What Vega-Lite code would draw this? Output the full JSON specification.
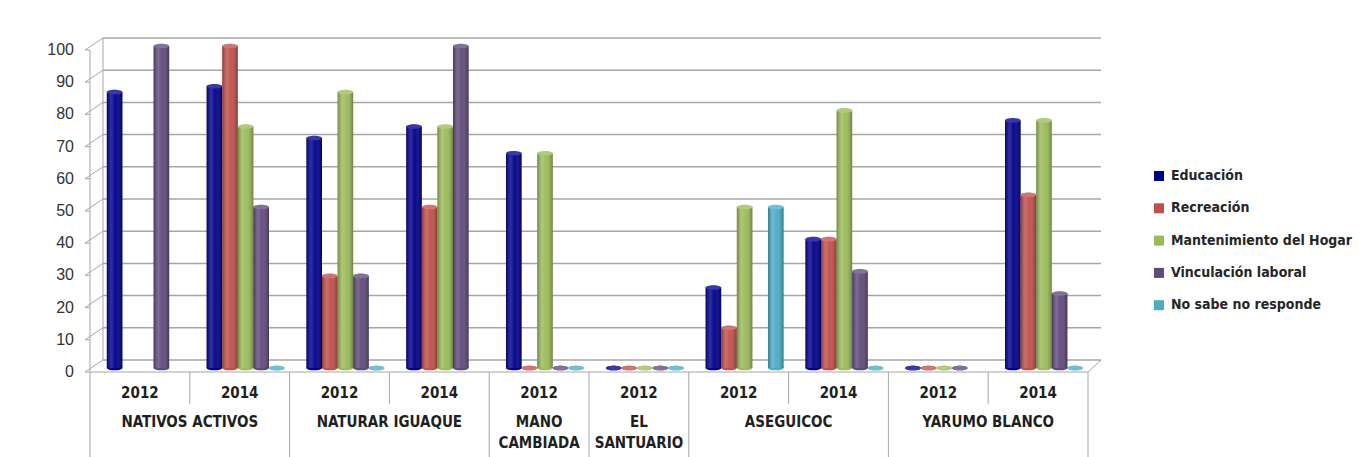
{
  "$schema": "https://vega.github.io/schema/vega-lite/v6.json",
  "padding": {"left": 47, "top": 37, "right": 5, "bottom": 0},
  "background": "white",
  "spacing": 0,
  "bounds": "flush",
  "config": {
    "view": {"stroke": null},
    "font": "Liberation Sans",
    "legend": {
      "orient": "none",
      "legendX": 1062,
      "legendY": 119,
      "title": null,
      "symbolType": "square",
      "symbolSize": 100,
      "symbolStrokeWidth": 0,
      "labelFont": "DejaVu Sans Condensed",
      "labelFontSize": 14,
      "labelFontWeight": "bold",
      "labelColor": "#262626",
      "labelLimit": 400,
      "rowPadding": 18.3,
      "labelOffset": 5
    }
  },
  "datasets": {
    "datos": [
      {"grupo": "NATIVOS ACTIVOS 2012", "serie": "Educación", "valor": 85.7},
      {"grupo": "NATIVOS ACTIVOS 2012", "serie": "Vinculación laboral", "valor": 100},
      {"grupo": "NATIVOS ACTIVOS 2014", "serie": "Educación", "valor": 87.5},
      {"grupo": "NATIVOS ACTIVOS 2014", "serie": "Recreación", "valor": 100},
      {"grupo": "NATIVOS ACTIVOS 2014", "serie": "Mantenimiento del Hogar", "valor": 75},
      {"grupo": "NATIVOS ACTIVOS 2014", "serie": "Vinculación laboral", "valor": 50},
      {"grupo": "NATIVOS ACTIVOS 2014", "serie": "No sabe no responde", "valor": 0},
      {"grupo": "NATURAR IGUAQUE 2012", "serie": "Educación", "valor": 71.4},
      {"grupo": "NATURAR IGUAQUE 2012", "serie": "Recreación", "valor": 28.6},
      {"grupo": "NATURAR IGUAQUE 2012", "serie": "Mantenimiento del Hogar", "valor": 85.7},
      {"grupo": "NATURAR IGUAQUE 2012", "serie": "Vinculación laboral", "valor": 28.6},
      {"grupo": "NATURAR IGUAQUE 2012", "serie": "No sabe no responde", "valor": 0},
      {"grupo": "NATURAR IGUAQUE 2014", "serie": "Educación", "valor": 75},
      {"grupo": "NATURAR IGUAQUE 2014", "serie": "Recreación", "valor": 50},
      {"grupo": "NATURAR IGUAQUE 2014", "serie": "Mantenimiento del Hogar", "valor": 75},
      {"grupo": "NATURAR IGUAQUE 2014", "serie": "Vinculación laboral", "valor": 100},
      {"grupo": "MANO CAMBIADA 2012", "serie": "Educación", "valor": 66.7},
      {"grupo": "MANO CAMBIADA 2012", "serie": "Recreación", "valor": 0},
      {"grupo": "MANO CAMBIADA 2012", "serie": "Mantenimiento del Hogar", "valor": 66.7},
      {"grupo": "MANO CAMBIADA 2012", "serie": "Vinculación laboral", "valor": 0},
      {"grupo": "MANO CAMBIADA 2012", "serie": "No sabe no responde", "valor": 0},
      {"grupo": "EL SANTUARIO 2012", "serie": "Educación", "valor": 0},
      {"grupo": "EL SANTUARIO 2012", "serie": "Recreación", "valor": 0},
      {"grupo": "EL SANTUARIO 2012", "serie": "Mantenimiento del Hogar", "valor": 0},
      {"grupo": "EL SANTUARIO 2012", "serie": "Vinculación laboral", "valor": 0},
      {"grupo": "EL SANTUARIO 2012", "serie": "No sabe no responde", "valor": 0},
      {"grupo": "ASEGUICOC 2012", "serie": "Educación", "valor": 25},
      {"grupo": "ASEGUICOC 2012", "serie": "Recreación", "valor": 12.5},
      {"grupo": "ASEGUICOC 2012", "serie": "Mantenimiento del Hogar", "valor": 50},
      {"grupo": "ASEGUICOC 2012", "serie": "No sabe no responde", "valor": 50},
      {"grupo": "ASEGUICOC 2014", "serie": "Educación", "valor": 40},
      {"grupo": "ASEGUICOC 2014", "serie": "Recreación", "valor": 40},
      {"grupo": "ASEGUICOC 2014", "serie": "Mantenimiento del Hogar", "valor": 80},
      {"grupo": "ASEGUICOC 2014", "serie": "Vinculación laboral", "valor": 30},
      {"grupo": "ASEGUICOC 2014", "serie": "No sabe no responde", "valor": 0},
      {"grupo": "YARUMO BLANCO 2012", "serie": "Educación", "valor": 0},
      {"grupo": "YARUMO BLANCO 2012", "serie": "Recreación", "valor": 0},
      {"grupo": "YARUMO BLANCO 2012", "serie": "Mantenimiento del Hogar", "valor": 0},
      {"grupo": "YARUMO BLANCO 2012", "serie": "Vinculación laboral", "valor": 0},
      {"grupo": "YARUMO BLANCO 2014", "serie": "Educación", "valor": 76.9},
      {"grupo": "YARUMO BLANCO 2014", "serie": "Recreación", "valor": 53.8},
      {"grupo": "YARUMO BLANCO 2014", "serie": "Mantenimiento del Hogar", "valor": 76.9},
      {"grupo": "YARUMO BLANCO 2014", "serie": "Vinculación laboral", "valor": 23.1},
      {"grupo": "YARUMO BLANCO 2014", "serie": "No sabe no responde", "valor": 0}
    ],
    "ticks": [
      {"v": 0}, {"v": 10}, {"v": 20}, {"v": 30}, {"v": 40}, {"v": 50},
      {"v": 60}, {"v": 70}, {"v": 80}, {"v": 90}, {"v": 100}
    ],
    "grupos": [
      {"grupo": "NATIVOS ACTIVOS 2012", "org": "NATIVOS ACTIVOS", "anio": "2012"},
      {"grupo": "NATIVOS ACTIVOS 2014", "org": "NATIVOS ACTIVOS", "anio": "2014"},
      {"grupo": "NATURAR IGUAQUE 2012", "org": "NATURAR IGUAQUE", "anio": "2012"},
      {"grupo": "NATURAR IGUAQUE 2014", "org": "NATURAR IGUAQUE", "anio": "2014"},
      {"grupo": "MANO CAMBIADA 2012", "org": "MANO CAMBIADA", "anio": "2012"},
      {"grupo": "EL SANTUARIO 2012", "org": "EL SANTUARIO", "anio": "2012"},
      {"grupo": "ASEGUICOC 2012", "org": "ASEGUICOC", "anio": "2012"},
      {"grupo": "ASEGUICOC 2014", "org": "ASEGUICOC", "anio": "2014"},
      {"grupo": "YARUMO BLANCO 2012", "org": "YARUMO BLANCO", "anio": "2012"},
      {"grupo": "YARUMO BLANCO 2014", "org": "YARUMO BLANCO", "anio": "2014"}
    ],
    "orgs": [
      {"etiqueta": "NATIVOS ACTIVOS", "ancla": "NATIVOS ACTIVOS 2014", "tramo": 2},
      {"etiqueta": "NATURAR IGUAQUE", "ancla": "NATURAR IGUAQUE 2014", "tramo": 2},
      {"etiqueta": "MANO\nCAMBIADA", "ancla": "MANO CAMBIADA 2012", "tramo": 1},
      {"etiqueta": "EL\nSANTUARIO", "ancla": "EL SANTUARIO 2012", "tramo": 1},
      {"etiqueta": "ASEGUICOC", "ancla": "ASEGUICOC 2014", "tramo": 2},
      {"etiqueta": "YARUMO BLANCO", "ancla": "YARUMO BLANCO 2014", "tramo": 2}
    ]
  },
  "vconcat": [
    {
      "width": 998,
      "height": 322,
      "layer": [
        {
          "data": {"name": "ticks"},
          "mark": {"type": "rule", "color": "#a6a6a6", "strokeWidth": 1.5, "xOffset": 13, "x2Offset": 13, "yOffset": -12},
          "encoding": {
            "y": {
              "field": "v", "type": "quantitative",
              "scale": {"domain": [0, 100], "nice": false},
              "axis": null
            },
            "x": {
              "datum": "NATIVOS ACTIVOS 2012", "type": "nominal", "bandPosition": 0,
              "scale": {
                "domain": ["NATIVOS ACTIVOS 2012", "NATIVOS ACTIVOS 2014", "NATURAR IGUAQUE 2012", "NATURAR IGUAQUE 2014", "MANO CAMBIADA 2012", "EL SANTUARIO 2012", "ASEGUICOC 2012", "ASEGUICOC 2014", "YARUMO BLANCO 2012", "YARUMO BLANCO 2014"],
                "paddingInner": 0, "paddingOuter": 0
              },
              "axis": null
            },
            "x2": {"datum": "YARUMO BLANCO 2014", "bandPosition": 1}
          }
        },
        {
          "data": {"name": "ticks"},
          "mark": {"type": "rule", "color": "#a6a6a6", "strokeWidth": 1, "xOffset": -5, "x2Offset": 13, "y2Offset": -12},
          "encoding": {
            "y": {"field": "v", "type": "quantitative"},
            "y2": {"field": "v"},
            "x": {"datum": "NATIVOS ACTIVOS 2012", "type": "nominal", "bandPosition": 0},
            "x2": {"datum": "NATIVOS ACTIVOS 2012", "bandPosition": 0}
          }
        },
        {
          "data": {"name": "ticks"},
          "mark": {"type": "rule", "color": "#a6a6a6", "strokeWidth": 1, "xOffset": -5},
          "encoding": {
            "y": {"field": "v", "type": "quantitative"},
            "x": {"datum": "NATIVOS ACTIVOS 2012", "type": "nominal", "bandPosition": 0},
            "x2": {"datum": "NATIVOS ACTIVOS 2012", "bandPosition": 0}
          }
        },
        {
          "data": {"name": "ticks"},
          "mark": {"type": "text", "align": "right", "baseline": "middle", "xOffset": -16, "font": "Liberation Sans", "fontSize": 16, "color": "#333333"},
          "encoding": {
            "y": {"field": "v", "type": "quantitative"},
            "x": {"datum": "NATIVOS ACTIVOS 2012", "type": "nominal", "bandPosition": 0},
            "text": {"field": "v"}
          }
        },
        {
          "data": {"values": [{}]},
          "mark": {"type": "rule", "color": "#a6a6a6", "strokeWidth": 1},
          "encoding": {
            "x": {"datum": "NATIVOS ACTIVOS 2012", "type": "nominal", "bandPosition": 0},
            "y": {"datum": 0, "type": "quantitative"},
            "y2": {"datum": 100}
          }
        },
        {
          "data": {"values": [{}]},
          "mark": {"type": "rule", "color": "#a6a6a6", "strokeWidth": 1, "xOffset": 13, "yOffset": -12, "y2Offset": -12},
          "encoding": {
            "x": {"datum": "NATIVOS ACTIVOS 2012", "type": "nominal", "bandPosition": 0},
            "y": {"datum": 0, "type": "quantitative"},
            "y2": {"datum": 100}
          }
        },
        {
          "data": {"values": [{}]},
          "mark": {"type": "rule", "color": "#a6a6a6", "strokeWidth": 1},
          "encoding": {
            "y": {"datum": 0, "type": "quantitative"}
          }
        },
        {
          "data": {"values": [{}]},
          "mark": {"type": "rule", "color": "#a6a6a6", "strokeWidth": 1, "x2Offset": 13, "y2Offset": -12},
          "encoding": {
            "x": {"datum": "YARUMO BLANCO 2014", "type": "nominal", "bandPosition": 1},
            "x2": {"datum": "YARUMO BLANCO 2014", "bandPosition": 1},
            "y": {"datum": 0, "type": "quantitative"},
            "y2": {"datum": 0}
          }
        },
        {
          "data": {"name": "datos"},
          "layer": [
            {
              "mark": {"type": "point", "shape": "M-1,0A1,0.3,0,1,0,1,0A1,0.3,0,1,0,-1,0Z", "size": 243, "filled": true, "opacity": 1, "yOffset": -4},
              "encoding": {
                "x": {"field": "grupo", "type": "nominal"},
                "xOffset": {"field": "serie", "type": "nominal"},
                "y": {"datum": 0, "type": "quantitative"},
                "color": {"field": "serie", "type": "nominal"}
              }
            },
            {
              "mark": {"type": "bar", "yOffset": -4, "y2Offset": -4},
              "encoding": {
                "x": {"field": "grupo", "type": "nominal"},
                "xOffset": {
                  "field": "serie", "type": "nominal",
                  "scale": {
                    "domain": ["Educación", "Recreación", "Mantenimiento del Hogar", "Vinculación laboral", "No sabe no responde"],
                    "paddingInner": 0, "paddingOuter": 0.7, "align": 0.77
                  }
                },
                "y": {"field": "valor", "type": "quantitative"},
                "color": {
                  "field": "serie", "type": "nominal",
                  "scale": {
                    "domain": ["Educación", "Recreación", "Mantenimiento del Hogar", "Vinculación laboral", "No sabe no responde"],
                    "range": ["#00008c", "#c0504d", "#9bbb59", "#604a7b", "#4bacc6"]
                  },
                  "legend": {}
                }
              }
            },
            {
              "mark": {
                "type": "bar", "yOffset": -4, "y2Offset": -4,
                "fill": {
                  "gradient": "linear", "x1": 0, "y1": 0, "x2": 1, "y2": 0,
                  "stops": [
                    {"offset": 0, "color": "rgba(0,0,0,0.28)"},
                    {"offset": 0.3, "color": "rgba(255,255,255,0.18)"},
                    {"offset": 0.55, "color": "rgba(255,255,255,0.04)"},
                    {"offset": 1, "color": "rgba(0,0,0,0.3)"}
                  ]
                }
              },
              "encoding": {
                "x": {"field": "grupo", "type": "nominal"},
                "xOffset": {"field": "serie", "type": "nominal"},
                "y": {"field": "valor", "type": "quantitative"}
              }
            },
            {
              "mark": {"type": "point", "shape": "M-1,0A1,0.3,0,1,0,1,0A1,0.3,0,1,0,-1,0Z", "size": 243, "filled": true, "opacity": 1, "yOffset": -4},
              "encoding": {
                "x": {"field": "grupo", "type": "nominal"},
                "xOffset": {"field": "serie", "type": "nominal"},
                "y": {"field": "valor", "type": "quantitative"},
                "color": {"field": "serie", "type": "nominal"}
              }
            },
            {
              "mark": {"type": "point", "shape": "M-1,0A1,0.3,0,1,0,1,0A1,0.3,0,1,0,-1,0Z", "size": 243, "filled": true, "color": "white", "opacity": 0.22, "yOffset": -4},
              "encoding": {
                "x": {"field": "grupo", "type": "nominal"},
                "xOffset": {"field": "serie", "type": "nominal"},
                "y": {"field": "valor", "type": "quantitative"}
              }
            }
          ]
        }
      ]
    },
    {
      "width": 998,
      "height": 85,
      "data": {"name": "grupos"},
      "layer": [
        {
          "transform": [{"filter": "datum.anio === '2012'"}],
          "mark": {"type": "rule", "color": "#a6a6a6", "strokeWidth": 1},
          "encoding": {
            "x": {
              "field": "grupo", "type": "nominal", "bandPosition": 0,
              "scale": {
                "domain": ["NATIVOS ACTIVOS 2012", "NATIVOS ACTIVOS 2014", "NATURAR IGUAQUE 2012", "NATURAR IGUAQUE 2014", "MANO CAMBIADA 2012", "EL SANTUARIO 2012", "ASEGUICOC 2012", "ASEGUICOC 2014", "YARUMO BLANCO 2012", "YARUMO BLANCO 2014"],
                "paddingInner": 0, "paddingOuter": 0
              },
              "axis": null
            }
          }
        },
        {
          "transform": [{"filter": "datum.grupo === 'YARUMO BLANCO 2014'"}],
          "mark": {"type": "rule", "color": "#a6a6a6", "strokeWidth": 1},
          "encoding": {
            "x": {"field": "grupo", "type": "nominal", "bandPosition": 1}
          }
        },
        {
          "transform": [{"filter": "datum.anio === '2014'"}],
          "mark": {"type": "rule", "color": "#a6a6a6", "strokeWidth": 1},
          "encoding": {
            "x": {"field": "grupo", "type": "nominal", "bandPosition": 0},
            "y": {
              "datum": "anio", "type": "nominal", "bandPosition": 0,
              "scale": {"domain": ["anio", "org"], "paddingInner": 0, "paddingOuter": 0},
              "axis": null
            },
            "y2": {"datum": "anio", "bandPosition": 0.75}
          }
        },
        {
          "mark": {"type": "text", "font": "DejaVu Sans Condensed", "fontSize": 15, "fontWeight": "bold", "color": "#1f1f1f", "baseline": "middle"},
          "encoding": {
            "x": {"field": "grupo", "type": "nominal"},
            "y": {"datum": "anio", "type": "nominal"},
            "text": {"field": "anio"}
          }
        },
        {
          "data": {"name": "orgs"},
          "transform": [{"filter": "datum.tramo === 2"}],
          "mark": {"type": "text", "font": "DejaVu Sans Condensed", "fontSize": 15, "fontWeight": "bold", "color": "#1f1f1f", "baseline": "top", "lineBreak": "\n", "lineHeight": 21},
          "encoding": {
            "x": {"field": "ancla", "type": "nominal", "bandPosition": 0},
            "y": {"datum": "org", "type": "nominal", "bandPosition": 0},
            "text": {"field": "etiqueta"}
          }
        },
        {
          "data": {"name": "orgs"},
          "transform": [{"filter": "datum.tramo === 1"}],
          "mark": {"type": "text", "font": "DejaVu Sans Condensed", "fontSize": 15, "fontWeight": "bold", "color": "#1f1f1f", "baseline": "top", "lineBreak": "\n", "lineHeight": 21},
          "encoding": {
            "x": {"field": "ancla", "type": "nominal", "bandPosition": 0.5},
            "y": {"datum": "org", "type": "nominal", "bandPosition": 0},
            "text": {"field": "etiqueta"}
          }
        }
      ]
    }
  ]
}
